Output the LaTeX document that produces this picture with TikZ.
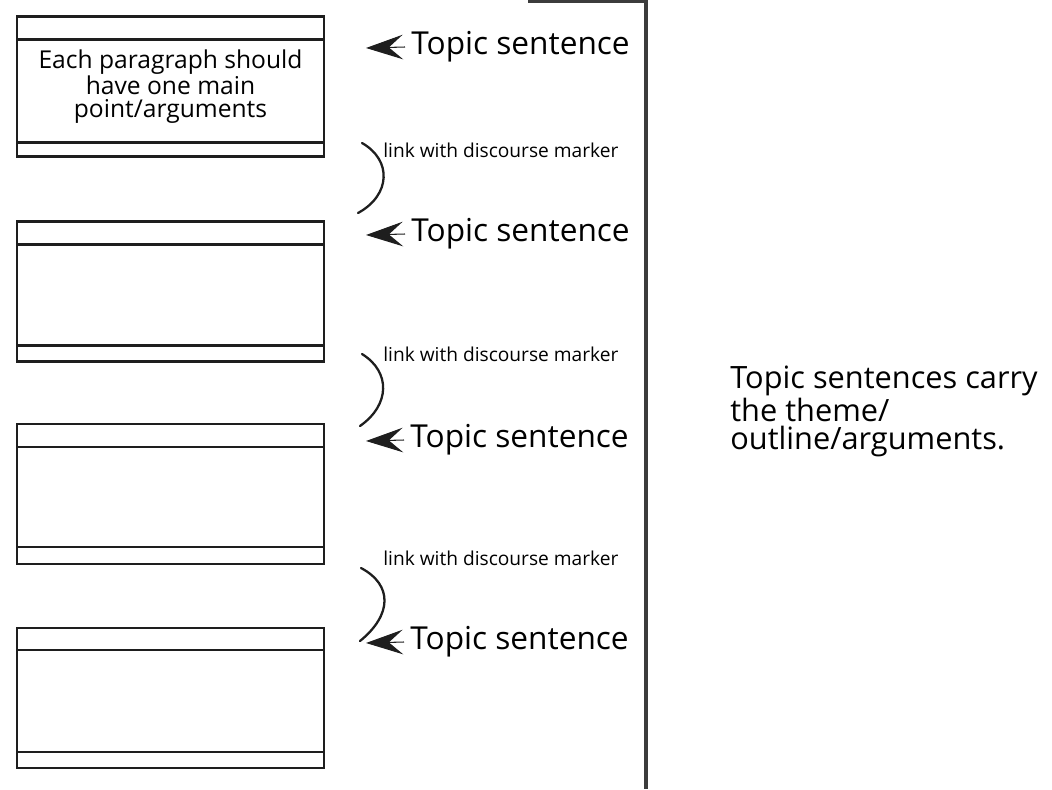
\documentclass[tikz,border=0pt]{standalone}
\usepackage{fontspec}
\setmainfont{Open Sans}
\usepackage{xcolor}
\definecolor{lineDark}{RGB}{30, 30, 30}
\definecolor{spineGray}{RGB}{60, 60, 60}
\usepackage{tikz}
\usetikzlibrary{
    arrows.meta,
    positioning,
    calc
}

\begin{document}
\begin{tikzpicture}[
    x=0.02cm, y=-0.02cm,
    paraBox/.style={
        rectangle, draw=lineDark, line width=1.4pt,
        minimum width=6.14cm, minimum height=2.8cm,
        inner sep=0pt, outer sep=0pt, align=center,
        font=\fontsize{14}{12.8}\selectfont
    },
    paraRule/.style={
        draw=lineDark, line width=1.4pt
    },
    topicText/.style={
        font=\fontsize{18}{20}\selectfont, inner sep=0pt, anchor=west
    },
    linkText/.style={
        font=\fontsize{10.9}{12}\selectfont, inner sep=0pt, anchor=west
    },
    topicArrow/.style={
        -{Stealth[length=21pt, width=14pt, inset=8pt]}, draw=lineDark, line width=0.6pt
    },
    linkCurve/.style={
        draw=lineDark, line width=1.3pt, line cap=round
    },
    spine/.style={
        draw=spineGray, line width=1.8pt
    },
    noteText/.style={
        font=\fontsize{17.5}{16}\selectfont, align=left, inner sep=0pt, anchor=north west
    }
]

    \useasboundingbox (0,0) rectangle (1052,789);

    % Paragraph boxes
    \node[paraBox] (para1) at (170.5, 86.5) {Each paragraph should\\have one main\\point/arguments};
    \node[paraBox] (para2) at (170.5, 291.5) {};
    \node[paraBox] (para3) at (170.5, 494) {};
    \node[paraBox] (para4) at (170.5, 698) {};

    % Header and footer rules
    \draw[paraRule] ($(para1.north west)+(0,23)$) -- ($(para1.north east)+(0,23)$);
    \draw[paraRule] ($(para1.south west)+(0,-14)$) -- ($(para1.south east)+(0,-14)$);
    \draw[paraRule] ($(para2.north west)+(0,23)$) -- ($(para2.north east)+(0,23)$);
    \draw[paraRule] ($(para2.south west)+(0,-16)$) -- ($(para2.south east)+(0,-16)$);
    \draw[paraRule] ($(para3.north west)+(0,23)$) -- ($(para3.north east)+(0,23)$);
    \draw[paraRule] ($(para3.south west)+(0,-17)$) -- ($(para3.south east)+(0,-17)$);
    \draw[paraRule] ($(para4.north west)+(0,22)$) -- ($(para4.north east)+(0,22)$);
    \draw[paraRule] ($(para4.south west)+(0,-16)$) -- ($(para4.south east)+(0,-16)$);

    % Topic sentences
    \node[topicText] (ts1) at (411, 47) {Topic sentence};
    \node[topicText] (ts2) at (411, 234) {Topic sentence};
    \node[topicText] (ts3) at (410, 440) {Topic sentence};
    \node[topicText] (ts4) at (410, 642) {Topic sentence};

    \coordinate (tip1) at (366, 48);
    \coordinate (tip2) at (366, 235);
    \coordinate (tip3) at (366, 441);
    \coordinate (tip4) at (366, 643);

    \draw[topicArrow] ([xshift=-0.12cm]ts1.west) -- (tip1);
    \draw[topicArrow] ([xshift=-0.12cm]ts2.west) -- (tip2);
    \draw[topicArrow] ([xshift=-0.12cm]ts3.west) -- (tip3);
    \draw[topicArrow] ([xshift=-0.12cm]ts4.west) -- (tip4);

    % Discourse marker links
    \node[linkText] (link1) at (383, 150) {link with discourse marker};
    \node[linkText] (link2) at (383, 354) {link with discourse marker};
    \node[linkText] (link3) at (383, 558) {link with discourse marker};

    \coordinate (arcTop1) at (362, 143);
    \coordinate (arcEnd1) at (358, 213);
    \coordinate (arcTop2) at (362, 354);
    \coordinate (arcEnd2) at (360, 426);
    \coordinate (arcTop3) at (361, 568);
    \coordinate (arcEnd3) at (360, 641);

    \draw[linkCurve] (arcTop1) .. controls (392, 160) and (391, 195) .. (arcEnd1);
    \draw[linkCurve] (arcTop2) .. controls (391, 372) and (390, 405) .. (arcEnd2);
    \draw[linkCurve] (arcTop3) .. controls (393, 585) and (392, 615) .. (arcEnd3);

    % Spine
    \coordinate (spineLeft) at (528, 1);
    \coordinate (spineTop) at (646, 1);
    \coordinate (spineBase) at (646, 789);
    \draw[spine] (spineLeft) -- (spineTop) -- (spineBase);

    % Note
    \node[noteText] (note) at (730, 366) {Topic sentences carry\\the theme/\\outline/arguments.};

\end{tikzpicture}
\end{document}
